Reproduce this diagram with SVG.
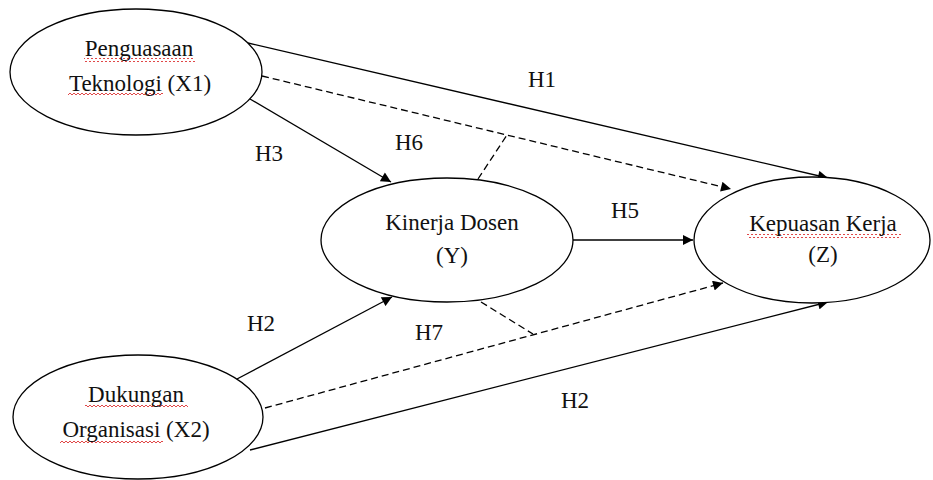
<svg xmlns="http://www.w3.org/2000/svg" width="933" height="480" viewBox="0 0 933 480" font-family="'Liberation Serif', 'Times New Roman', serif">
<defs>
<marker id="arr" viewBox="0 0 10 10" refX="10" refY="5" markerWidth="12" markerHeight="10" markerUnits="userSpaceOnUse" orient="auto">
<path d="M0,0 L10,5 L0,10 z" fill="#000"/>
</marker>
<pattern id="wave" width="4" height="4" patternUnits="userSpaceOnUse">
<path d="M0,3 L2,1 L4,3" fill="none" stroke="#d33" stroke-width="0.9"/>
</pattern>
</defs>
<style>
.node ellipse{fill:#fff;stroke:#000;stroke-width:1.3}
text{font-family:'Liberation Serif', 'Times New Roman', serif;font-size:23px;fill:#111}
.c{text-anchor:middle}
.solid{stroke:#000;stroke-width:1.3;fill:none}
.dash{stroke:#000;stroke-width:1.3;fill:none;stroke-dasharray:7 4}
.sq{fill:url(#wave)}
</style>
<rect width="933" height="480" fill="#fff"/>
<g id="connectors">
<line class="solid" x1="248" y1="43" x2="828" y2="178" marker-end="url(#arr)"/>
<line class="dash" x1="262" y1="76" x2="731" y2="189" marker-end="url(#arr)"/>
<line class="solid" x1="250" y1="99" x2="391" y2="182" marker-end="url(#arr)"/>
<line class="dash" x1="478" y1="179" x2="507" y2="135"/>
<line class="solid" x1="573" y1="240" x2="693" y2="240" marker-end="url(#arr)"/>
<line class="solid" x1="237" y1="379" x2="392" y2="297" marker-end="url(#arr)"/>
<line class="dash" x1="265" y1="408" x2="723" y2="283" marker-end="url(#arr)"/>
<line class="dash" x1="481" y1="302" x2="533" y2="334"/>
<line class="solid" x1="250" y1="450" x2="828" y2="302" marker-end="url(#arr)"/>
<text x="528" y="87">H1</text>
<text x="255" y="161">H3</text>
<text x="395" y="150">H6</text>
<text x="611" y="218">H5</text>
<text x="247" y="331">H2</text>
<text x="415" y="340">H7</text>
<text x="561" y="408">H2</text>
</g>
<g id="X1" class="node">
<ellipse cx="136" cy="72" rx="126" ry="63"/>
<rect class="sq" x="84" y="58" width="111" height="4"/>
<rect class="sq" x="68" y="93" width="95" height="4"/>
<text class="c" x="139" y="56">Penguasaan</text>
<text class="c" x="140" y="91">Teknologi (X1)</text>
</g>
<g id="Y" class="node">
<ellipse cx="447" cy="240" rx="126" ry="62"/>
<text class="c" x="452" y="230">Kinerja Dosen</text>
<text class="c" x="452" y="263">(Y)</text>
</g>
<g id="Z" class="node">
<ellipse cx="812" cy="240" rx="118" ry="63"/>
<rect class="sq" x="747" y="234" width="154" height="4"/>
<text class="c" x="823" y="231">Kepuasan Kerja</text>
<text class="c" x="823" y="262">(Z)</text>
</g>
<g id="X2" class="node">
<ellipse cx="138" cy="417" rx="125" ry="62"/>
<rect class="sq" x="85" y="404" width="103" height="4"/>
<rect class="sq" x="60" y="439" width="103" height="4"/>
<text class="c" x="136" y="402">Dukungan</text>
<text class="c" x="136" y="437">Organisasi (X2)</text>
</g>
</svg>
